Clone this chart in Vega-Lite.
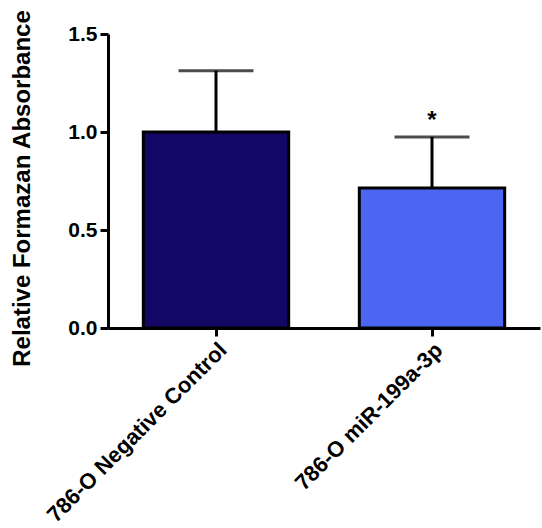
{
  "$schema": "https://vega.github.io/schema/vega-lite/v6.json",
  "width": 432,
  "height": 294,
  "autosize": "none",
  "padding": {"left": 108, "top": 34, "right": 2, "bottom": 200},
  "background": "white",
  "config": {
    "view": {"stroke": null},
    "font": "Liberation Sans",
    "axis": {
      "domainColor": "black",
      "domainWidth": 3,
      "tickColor": "black",
      "tickWidth": 3,
      "tickSize": 8,
      "labelColor": "black",
      "labelFont": "Liberation Sans",
      "labelFontWeight": "bold",
      "labelFontSize": 21,
      "titleFont": "Liberation Sans",
      "titleFontWeight": "bold",
      "titleColor": "black",
      "titleFontSize": 24,
      "grid": false
    }
  },
  "data": {
    "values": [
      {"group": "786-O Negative Control", "mean": 1.0, "upper": 1.313, "sig": ""},
      {"group": "786-O miR-199a-3p", "mean": 0.714, "upper": 0.975, "sig": "*"}
    ]
  },
  "encoding": {
    "x": {
      "field": "group",
      "type": "nominal",
      "sort": null,
      "scale": {"paddingInner": 0.327, "paddingOuter": 0.1635},
      "axis": {"title": null, "labelAngle": -45, "labelFontSize": 22, "labelPadding": 3, "labelLimit": 600}
    }
  },
  "layer": [
    {
      "mark": {"type": "rule", "strokeWidth": 3, "color": "black"},
      "encoding": {
        "y": {"field": "mean", "type": "quantitative"},
        "y2": {"field": "upper"}
      }
    },
    {
      "mark": {"type": "tick", "size": 75, "thickness": 3, "color": "black"},
      "encoding": {
        "y": {"field": "upper", "type": "quantitative"}
      }
    },
    {
      "mark": {"type": "bar", "stroke": "black", "strokeWidth": 3},
      "encoding": {
        "y": {
          "field": "mean",
          "type": "quantitative",
          "scale": {"domain": [0, 1.5], "nice": false},
          "axis": {
            "title": "Relative Formazan Absorbance",
            "values": [0, 0.5, 1, 1.5],
            "format": ".1f",
            "labelPadding": 3,
            "titlePadding": 33,
            "titleY": 154
          }
        },
        "color": {
          "field": "group",
          "type": "nominal",
          "sort": null,
          "scale": {"range": ["#130664", "#4A66F2"]},
          "legend": null
        }
      }
    },
    {
      "mark": {"type": "text", "fontSize": 24, "fontWeight": "bold", "color": "black", "dy": -16},
      "encoding": {
        "y": {"field": "upper", "type": "quantitative"},
        "text": {"field": "sig"}
      }
    }
  ]
}
